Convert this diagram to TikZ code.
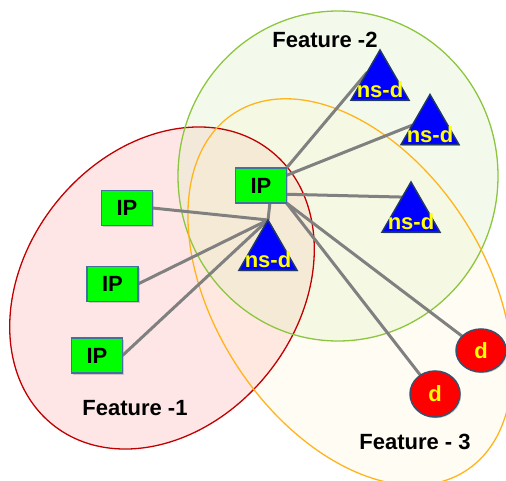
\documentclass[tikz,border=0pt]{standalone}
\usepackage{fontspec}
\setmainfont{Liberation Sans}
\usetikzlibrary{shapes.geometric,calc,shadows}
\pgfdeclarelayer{bg}
\pgfsetlayers{bg,main}
\definecolor{ipgreen}{RGB}{0,255,0}
\definecolor{ipedge}{RGB}{65,113,156}
\definecolor{nsblue}{RGB}{0,0,255}
\definecolor{nsedge}{RGB}{31,56,100}
\definecolor{dred}{RGB}{255,0,0}
\definecolor{dedge}{RGB}{56,80,110}
\definecolor{txtyellow}{RGB}{255,255,0}
\definecolor{linkgray}{RGB}{128,128,128}
\definecolor{fonel}{RGB}{192,0,0}
\definecolor{ftwol}{RGB}{140,198,63}
\definecolor{fthreel}{RGB}{255,180,30}
\definecolor{fonef}{RGB}{255,200,200}
\definecolor{ftwof}{RGB}{215,240,190}
\definecolor{fthreef}{RGB}{255,240,200}
\tikzset{
  bigbold/.style={font=\bfseries\fontsize{22}{24}\selectfont},
  ipbox/.style={rectangle, draw=ipedge, line width=1.2pt, fill=ipgreen,
    minimum width=51pt, minimum height=35pt, inner sep=0pt, outer sep=0pt,
    bigbold, drop shadow={shadow xshift=1.5pt, shadow yshift=-1.5pt, opacity=0.35}},
  nstri/.style={regular polygon, regular polygon sides=3, minimum size=67pt,
    inner sep=0pt, outer sep=0pt, draw=nsedge, line width=1.5pt, fill=nsblue,
    drop shadow={shadow xshift=1.2pt, shadow yshift=-1.2pt, opacity=0.4}},
  nstext/.style={bigbold, text=txtyellow, anchor=base, inner sep=0pt},
  dnode/.style={ellipse, draw=dedge, line width=1.5pt, fill=dred, inner sep=0pt,
    outer sep=0pt, bigbold, text=txtyellow,
    drop shadow={shadow xshift=1.2pt, shadow yshift=-1.2pt, opacity=0.35}},
  feat/.style={bigbold, text=black, inner sep=0pt},
  link/.style={draw=linkgray, line width=3pt},
  zone/.style={line width=1.3pt},
}
\begin{document}
\begin{tikzpicture}[x=1pt, y=-1pt]
\useasboundingbox (0,0) rectangle (506,481);

% devices
\node[ipbox] (hub) at (261,185.5) {IP};
\node[ipbox] (ipa) at (127,208) {IP};
\node[ipbox] (ipb) at (112.5,284) {IP};
\node[ipbox] (ipc) at (97,355.5) {IP};

\node[nstri] (T0) at (268,253.5) {};
\node[nstri] (T1) at (380,83.5) {};
\node[nstri] (T2) at (430,128) {};
\node[nstri] (T3) at (411,215.5) {};
\node[nstext] (T0t) at ($(T0.side 2)+(0,-2.5)$) {ns-d};
\node[nstext] (T1t) at ($(T1.side 2)+(0,-2.5)$) {ns-d};
\node[nstext] (T2t) at ($(T2.side 2)+(0,-2.5)$) {ns-d};
\node[nstext] (T3t) at ($(T3.side 2)+(0,-2.5)$) {ns-d};

\node[dnode, minimum width=50pt, minimum height=43pt] (d1) at (481,350.5) {d};
\node[dnode, minimum width=50pt, minimum height=46pt] (d2) at (435,394) {d};

% feature labels
\node[feat] (f2) at (325,40) {Feature -2};
\node[feat] (f1) at (135,408) {Feature -1};
\node[feat] (f3) at (415,442) {Feature - 3};

\begin{pgfonlayer}{bg}
  % feature zones: translucent fills first, then outlines
  \fill[fonef, fill opacity=0.45, rotate around={51.5:(162,288)}]
    (162,288) ellipse [x radius=175, y radius=136];
  \fill[ftwof, fill opacity=0.3] (338,176) ellipse [x radius=160, y radius=165];
  \fill[fthreef, fill opacity=0.22, rotate around={-57:(350,292)}]
    (350,292) ellipse [x radius=213, y radius=135];
  \draw[zone, fonel, rotate around={51.5:(162,288)}]
    (162,288) ellipse [x radius=175, y radius=136];
  \draw[zone, ftwol] (338,176) ellipse [x radius=160, y radius=165];
  \draw[zone, fthreel, rotate around={-57:(350,292)}]
    (350,292) ellipse [x radius=213, y radius=135];

  % links
  \draw[link] (hub.north east) -- ($(T1.corner 1)!0.44!(T1.corner 2)$);
  \draw[link] (hub.center) -- ($(T2.corner 1)!0.61!(T2.corner 2)$);
  \draw[link] ($(hub.north east)!0.75!(hub.south east)$) -- ($(T3.corner 1)!0.3!(T3.corner 2)$);
  \draw[link] (hub.south east) -- (d1.center);
  \draw[link] (hub.south east) -- (d2.center);
  \draw[link] ($(hub.south)!0.35!(hub.south east)$) -- (T0.corner 1);
  \draw[link] (ipa.east) -- (T0.corner 1);
  \draw[link] (ipb.east) -- (T0.corner 1);
  \draw[link] (ipc.east) -- (T0.corner 1);
\end{pgfonlayer}
\end{tikzpicture}
\end{document}
